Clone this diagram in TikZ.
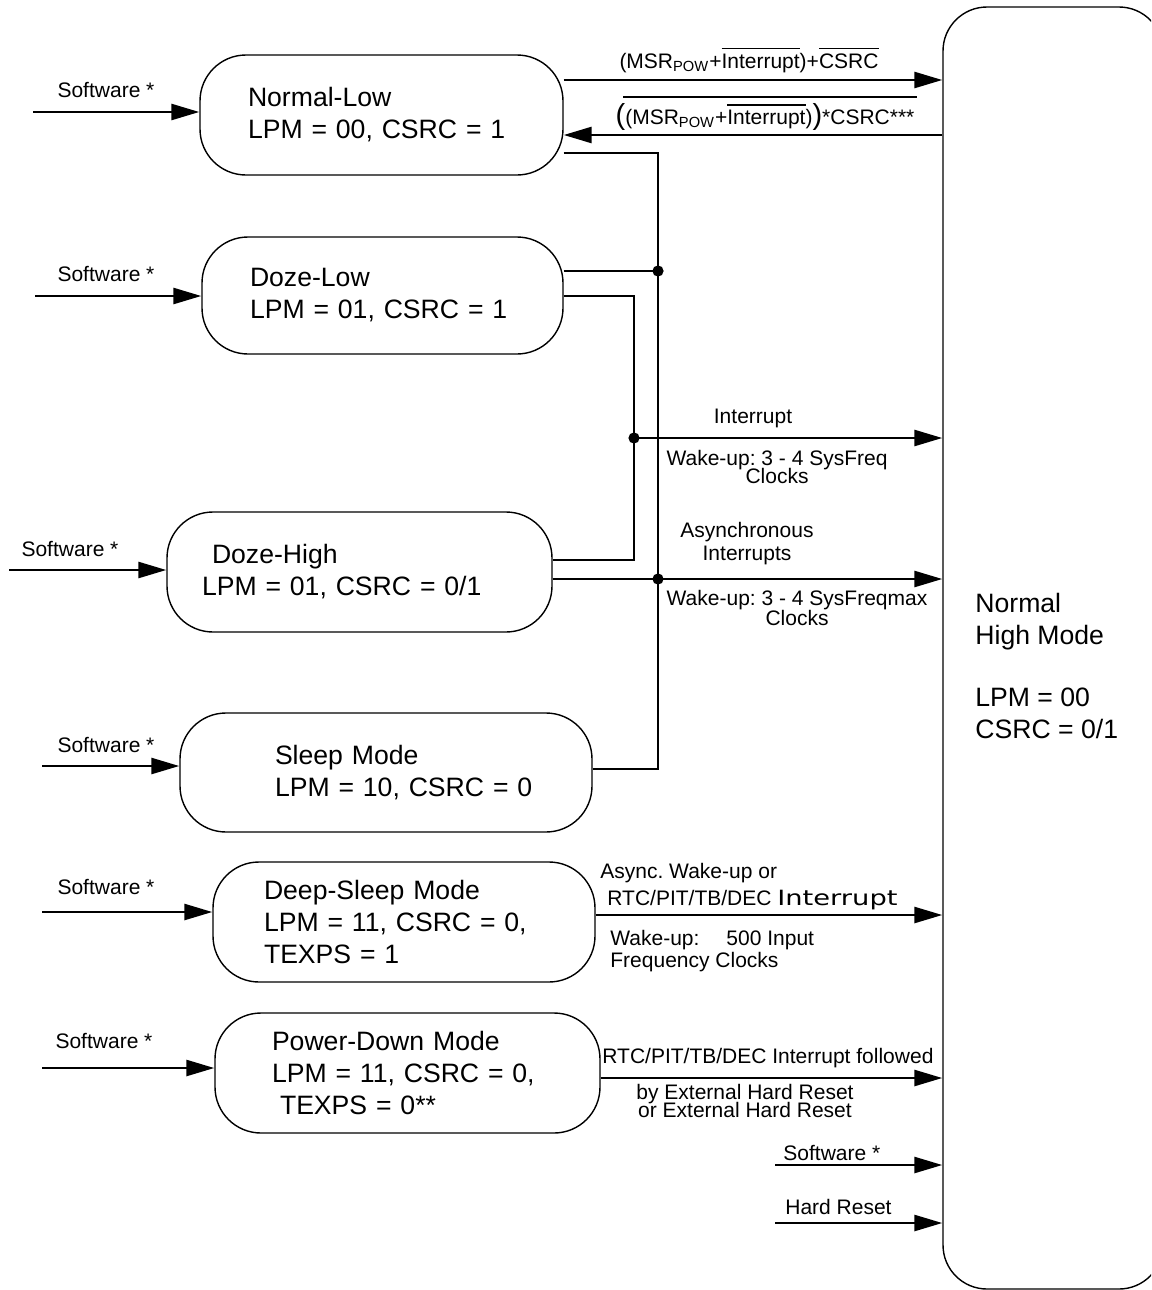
\documentclass[tikz,border=0pt]{standalone}
\usepackage{fontspec}
\setmainfont{Liberation Sans}
\newfontfamily\widefont{DejaVu Sans}
\usepackage{graphicx}
\usetikzlibrary{arrows.meta}
\frenchspacing
\newsavebox\ovlbox
\newcommand\ovl[1]{\sbox\ovlbox{#1}\rlap{\rule[0.9em]{\wd\ovlbox}{0.8pt}}\usebox\ovlbox}
\tikzset{
  mode/.style={draw, line width=0.7pt, rounded corners=23pt, inner sep=0pt, align=left,
    font=\fontsize{13.3}{16}\selectfont\frenchspacing},
  lbl/.style={font=\fontsize{10.5}{10}\selectfont\frenchspacing, inner sep=0pt},
  arr/.style={line width=1.3pt, -{Triangle[length=14pt,width=8pt]}},
  conn/.style={line width=1.3pt},
}
\begin{document}
\begin{tikzpicture}[x=0.5pt,y=-0.5pt]
\useasboundingbox (0,0) rectangle (1151,1290);
\clip (0,0) rectangle (1151,1290);

% big state
\node[draw, line width=0.7pt, rounded corners=22pt, minimum width=110pt, minimum height=641pt, inner sep=0pt] (nh) at (1053,648) {};
\node[anchor=west, align=left, inner sep=0pt, font=\fontsize{13.3}{16}\selectfont\frenchspacing] (nhtext) at (975,666)
  {Normal\\High Mode\\[15pt]LPM = 00\\CSRC = 0/1};

% left states
\node[mode, minimum width=181.5pt, text width=181.5pt, minimum height=60pt] (nl) at (381.5,115)
  {\hspace*{24pt}Normal-Low\\\hspace*{24pt}LPM = 00, CSRC = 1};
\node[mode, minimum width=180.5pt, text width=180.5pt, minimum height=58.5pt] (dl) at (382.5,295.5)
  {\hspace*{24pt}Doze-Low\\\hspace*{24pt}LPM = 01, CSRC = 1};
\node[mode, minimum width=192.5pt, text width=192.5pt, minimum height=60pt] (dh) at (359.5,572)
  {\hspace*{22.5pt}Doze-High\\\hspace*{17.5pt}LPM = 01, CSRC = 0/1};
\node[mode, minimum width=206pt, text width=206pt, minimum height=59.5pt] (sl) at (386,772.5)
  {\hspace*{47.5pt}Sleep Mode\\\hspace*{47.5pt}LPM = 10, CSRC = 0};
\node[mode, minimum width=191pt, text width=191pt, minimum height=60pt] (ds) at (404,922)
  {\hspace*{25.5pt}Deep-Sleep Mode\\\hspace*{25.5pt}LPM = 11, CSRC = 0,\\\hspace*{25.5pt}TEXPS = 1};
\node[mode, minimum width=192.5pt, text width=192.5pt, minimum height=60pt] (pd) at (407.5,1073)
  {\hspace*{28.5pt}Power-Down Mode\\\hspace*{28.5pt}LPM = 11, CSRC = 0,\\\hspace*{32.5pt}TEXPS = 0**};

% software inputs on the left
\coordinate (s1) at (33,112);
\coordinate (s2) at (35,296);
\coordinate (s3) at (9,570);
\coordinate (s4) at (42,766);
\coordinate (s5) at (42,912);
\coordinate (s6) at (42,1068);
\draw[arr] (s1) -- (nl.west |- s1);
\draw[arr] (s2) -- (dl.west |- s2);
\draw[arr] (s3) -- (dh.west |- s3);
\draw[arr] (s4) -- (sl.west |- s4);
\draw[arr] (s5) -- (ds.west |- s5);
\draw[arr] (s6) -- (pd.west |- s6);
\node[lbl] (sw1) at (106,90) {Software *};
\node[lbl] (sw2) at (106,274) {Software *};
\node[lbl] (sw3) at (70,549) {Software *};
\node[lbl] (sw4) at (106,745) {Software *};
\node[lbl] (sw5) at (106,887) {Software *};
\node[lbl] (sw6) at (104,1041) {Software *};

% Normal-Low <-> Normal High
\draw[arr] (nl.east |- 0,80) -- (nh.west |- 0,80);
\node[lbl] (l1) at (749,60) {(MSR\textsubscript{POW}+\ovl{Interrupt})+\ovl{CSRC}};
\draw[arr] (nh.west |- 0,135) -- (nl.east |- 0,135);
\node[lbl] (l2) at (765,117) {{\fontsize{14.5}{14}\selectfont(}(MSR\textsubscript{POW}+\ovl{Interrupt}){\fontsize{14.5}{14}\selectfont)}*CSRC***};
\draw[line width=1.1pt] (623,97) -- (917,97);

% bus lines
\coordinate (b1) at (658,153);
\coordinate (b2) at (658,769);
\draw[conn] (nl.east |- b1) -- (b1) -- (b2) -- (sl.east |- b2);
\coordinate (j1) at (658,271);
\draw[conn] (dl.east |- j1) -- (j1);
\fill (j1) circle (2.8pt);

\coordinate (c1) at (634,296);
\coordinate (c2) at (634,560);
\coordinate (j2) at (634,438);
\draw[conn] (dl.east |- c1) -- (c1) -- (c2) -- (dh.east |- c2);
\draw[arr] (j2) -- (nh.west |- j2);
\fill (j2) circle (2.8pt);
\node[lbl] (lint) at (753,418) {Interrupt};
\node[lbl, align=center] (lwk1) at (777,467) {Wake-up: 3 - 4 SysFreq\\[-1pt]Clocks};

\coordinate (j3) at (658,579);
\draw[arr] (dh.east |- j3) -- (nh.west |- j3);
\fill (j3) circle (2.8pt);
\node[lbl, align=center] (lasy) at (747,543.5) {Asynchronous\\[1.5pt]Interrupts};
\node[lbl, align=center] (lwk2) at (797,608) {Wake-up: 3 - 4 SysFreqmax\\Clocks};

% Deep-Sleep
\draw[arr] (ds.east |- 0,915) -- (nh.west |- 0,915);
\node[lbl, anchor=west] (ds1) at (600,873) {Async. Wake-up or};
\node[lbl, anchor=west] (ds2) at (607,900) {RTC/PIT/TB/DEC \scalebox{1.3}[1]{\widefont Interrupt}};
\node[lbl, anchor=west, align=left] (ds3) at (610,951) {Wake-up:\hspace{13.5pt}500 Input\\[1pt]Frequency Clocks};

% Power-Down
\draw[arr] (pd.east |- 0,1078) -- (nh.west |- 0,1078);
\node[lbl, anchor=west] (pd1) at (602,1058) {RTC/PIT/TB/DEC Interrupt followed};
\node[lbl, align=center] (pd2) at (745,1101) {by External Hard Reset\\[-1pt]or External Hard Reset};

% Software / Hard Reset into Normal High
\coordinate (r1) at (775,1165);
\coordinate (r2) at (775,1223);
\draw[arr] (r1) -- (nh.west |- r1);
\draw[arr] (r2) -- (nh.west |- r2);
\node[lbl, anchor=west] (rs1) at (783,1153) {Software *};
\node[lbl, anchor=west] (rs2) at (785,1207) {Hard Reset};
\end{tikzpicture}
\end{document}
